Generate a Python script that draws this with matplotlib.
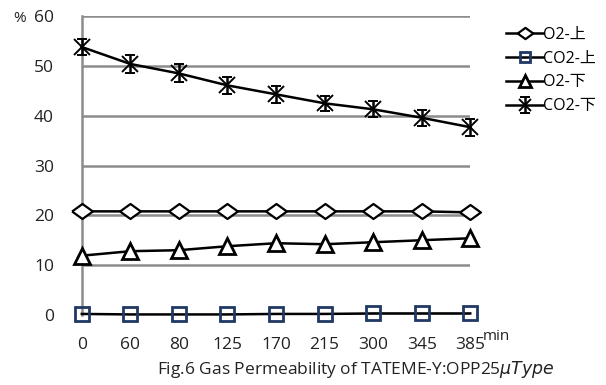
import matplotlib
matplotlib.use("Agg")
import matplotlib.pyplot as plt  # noqa: E402
import numpy as np  # noqa: E402

plt.rcParams["font.family"] = ["Open Sans", "Noto Sans CJK SC", "DejaVu Sans"]

times = ["0", "60", "80", "125", "170", "215", "300", "345", "385"]
o2_up = [20.8, 20.8, 20.8, 20.8, 20.8, 20.8, 20.8, 20.8, 20.6]
co2_up = [0.2, 0.1, 0.1, 0.1, 0.2, 0.2, 0.3, 0.3, 0.3]
o2_down = [11.9, 12.8, 13.0, 13.8, 14.4, 14.2, 14.6, 15.0, 15.4]
co2_down = [53.8, 50.4, 48.5, 46.1, 44.3, 42.5, 41.3, 39.6, 37.7]
co2_down_err = [1.6, 1.8, 1.8, 1.7, 1.7, 1.5, 1.6, 1.6, 1.7]

# wide, flat diamond like the original
diamond = [(-1, 0), (0, 0.72), (1, 0), (0, -0.72), (-1, 0)]

fig = plt.figure(figsize=(6.06, 3.85), dpi=100)
ax = fig.add_axes([0.135, 0.182, 0.641, 0.776])
x = np.arange(len(times))

ax.plot(x, o2_up, color="black", lw=1.8, marker=diamond, ms=15, mfc="white", mec="black", mew=1.6,
        label="O2-上", zorder=3, clip_on=False)
ax.plot(x, co2_up, color="black", lw=1.8, marker="s", ms=10, mfc="none", mec="#1f3864", mew=2.0,
        label="CO2-上", zorder=3, clip_on=False)
ax.plot(x, o2_down, color="black", lw=1.8, marker="^", ms=11, mfc="white", mec="black", mew=2.0,
        label="O2-下", zorder=3, clip_on=False)
eb = ax.errorbar(x, co2_down, yerr=co2_down_err, color="black", lw=1.8, marker="x", ms=11, mew=1.4,
                 ecolor="black", elinewidth=1.8, capsize=3.5, capthick=1.8, label="CO2-下", zorder=3)
for art in eb.lines[0:1] + tuple(eb.lines[1]) + tuple(eb.lines[2]):
    art.set_clip_on(False)

ax.set_xlim(0, len(times) - 1)
ax.set_ylim(0, 60)
ax.set_yticks(range(0, 61, 10))
ax.set_xticks(x)
ax.set_xticklabels(times)
ax.grid(axis="y", color="#8c8c8c", lw=1.8, zorder=1)
for s in ["top", "right", "bottom"]:
    ax.spines[s].set_visible(False)
ax.spines["left"].set_color("#8c8c8c")
ax.spines["left"].set_linewidth(1.8)
ax.tick_params(length=0, labelsize=12.5, colors="#222222")
ax.tick_params(axis="x", pad=16)
ax.tick_params(axis="y", pad=20)

fig.text(0.022, 0.953, "%", fontsize=11, color="#222222", va="center")
fig.text(0.797, 0.125, "min", fontsize=11, color="#222222", va="center")
fig.text(0.588, 0.040, "Fig.6 Gas Permeability of TATEME-Y:OPP25$\\mu$$\\it{Type}$",
         fontsize=12.5, color="#222222", ha="center", va="center")

leg = fig.legend(loc="upper left", bbox_to_anchor=(0.825, 0.948), frameon=False, fontsize=11.5,
                 handlelength=2.3, handletextpad=0.0, labelspacing=0.5, borderaxespad=0,
                 markerscale=0.75)
fig.savefig("out.png", dpi=100)
